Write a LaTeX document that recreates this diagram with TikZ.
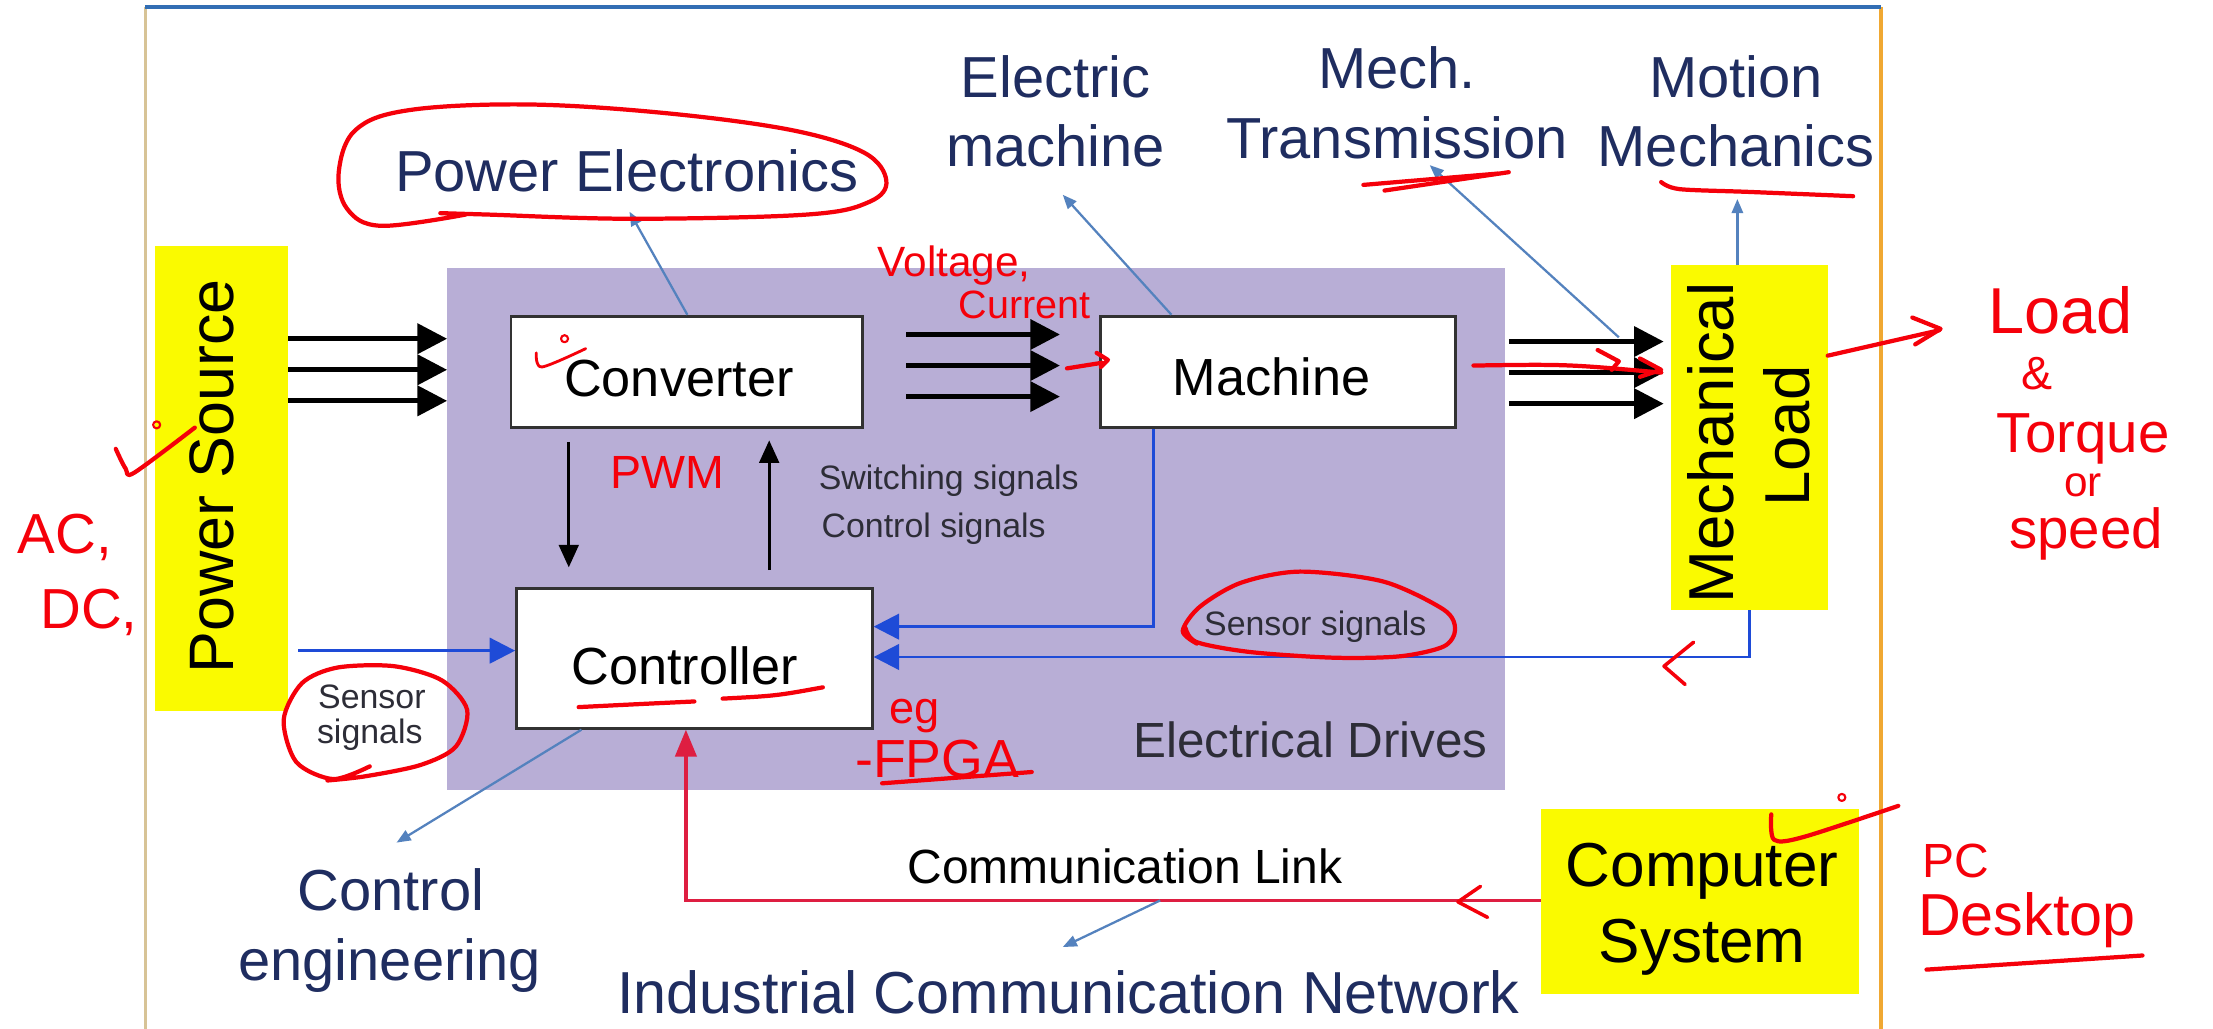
\documentclass[tikz,border=0pt]{standalone}
\usepackage{fontspec}
\setmainfont{Liberation Sans}
\usetikzlibrary{arrows.meta,calc}

\definecolor{drivefill}{RGB}{184,174,214}
\definecolor{srcyellow}{RGB}{250,250,0}
\definecolor{navy}{RGB}{31,45,96}
\definecolor{sensblue}{RGB}{30,75,215}
\definecolor{linkred}{RGB}{222,30,65}
\definecolor{steel}{RGB}{84,130,190}
\definecolor{ink}{RGB}{245,0,10}
\definecolor{framebl}{RGB}{50,110,180}
\definecolor{frameor}{RGB}{240,168,50}
\definecolor{frametan}{RGB}{215,195,150}
\definecolor{boxedge}{RGB}{50,50,50}
\definecolor{smalltxt}{RGB}{45,45,55}

\newcommand{\pxsize}[1]{\fontsize{#1pt}{#1pt}\selectfont}

\begin{document}
\begin{tikzpicture}[x=1pt,y=-1pt,
  block/.style={draw=boxedge, line width=2pt, fill=white, inner sep=0pt},
  yellowbox/.style={fill=srcyellow, inner sep=0pt},
  topic/.style={text=navy, font=\pxsize{41}, inner sep=0pt, anchor=base},
  blocktxt/.style={font=\pxsize{37}, inner sep=0pt, anchor=base},
  sigtxt/.style={text=smalltxt, font=\pxsize{24}, inner sep=0pt, anchor=base west},
  power/.style={line width=3.5pt, -{Triangle[length=21pt,width=21pt]}},
  ctlarrow/.style={line width=2pt, -{Triangle[length=16pt,width=14pt]}},
  sense/.style={draw=sensblue, line width=2pt, -{Triangle[length=18pt,width=18pt]}},
  commlink/.style={draw=linkred, line width=2.5pt, -{Triangle[length=19pt,width=15pt]}},
  pointer/.style={draw=steel, line width=1.6pt, -{Triangle[length=10pt,width=8pt]}},
  pen/.style={draw=ink, line width=3pt, line cap=round, line join=round},
  hand/.style={text=ink, inner sep=0pt},
]
\useasboundingbox (0,0) rectangle (1568,729);
\fill[white] (0,0) rectangle (1568,729);

% slide frame
\draw[frametan, line width=2pt] (103,5) -- (103,729);
\draw[frameor, line width=3pt] (1333,5) -- (1333,729);
\draw[framebl, line width=2.5pt] (103,5) -- (1333,5);

% drive area and outer blocks
\node[fill=drivefill, minimum width=749pt, minimum height=370pt, inner sep=0pt] (drives) at (691.5,375) {};
\node[yellowbox, minimum width=94pt, minimum height=330pt] (psrc) at (157,339) {};
\node[yellowbox, minimum width=111pt, minimum height=244pt] (mload) at (1239.5,310) {};
\node[yellowbox, minimum width=225pt, minimum height=131pt] (comp) at (1204.5,638.5) {};

% inner blocks
\node[block, minimum width=249pt, minimum height=79pt] (conv) at (486.5,263.5) {};
\node[block, minimum width=251pt, minimum height=79pt] (mach) at (905.5,263.5) {};
\node[block, minimum width=252pt, minimum height=99pt] (ctrl) at (492,466.5) {};

% block texts
\node[rotate=90, font=\pxsize{44.5}, inner sep=0pt] (psrctxt) at (150,337.5) {Power Source};
\node[rotate=90, font=\pxsize{45}, inner sep=0pt] (mloadtxt1) at (1212,314) {Mechanical};
\node[rotate=90, font=\pxsize{45}, inner sep=0pt] (mloadtxt2) at (1266,309) {Load};
\node[font=\pxsize{44}, inner sep=0pt, anchor=base] (comptxt1) at (1206,628) {Computer};
\node[font=\pxsize{44}, inner sep=0pt, anchor=base] (comptxt2) at (1206,682) {System};
\node[blocktxt] (convtxt) at (481,281) {Converter};
\node[blocktxt] (machtxt) at (901,280) {Machine};
\node[blocktxt] (ctrltxt) at (485,485) {Controller};

% discipline labels
\node[topic] (pe) at (444,136) {Power Electronics};
\node[topic] (em1) at (748,69) {Electric};
\node[topic] (em2) at (748,118) {machine};
\node[topic] (mt1) at (990,63) {Mech.};
\node[topic] (mt2) at (990,112) {Transmission};
\node[topic] (mm1) at (1230,69) {Motion};
\node[topic] (mm2) at (1230,118) {Mechanics};
\node[topic] (ce1) at (277,645) {Control};
\node[topic] (ce2) at (276,695) {engineering};
\node[topic, font=\pxsize{42}, anchor=base west] (icn) at (437,718) {Industrial Communication Network};

% signal labels
\node[sigtxt] (sw) at (580,347) {Switching signals};
\node[sigtxt] (cs) at (582,380.5) {Control signals};
\node[sigtxt] (ssr) at (853,450) {Sensor signals};
\node[sigtxt, anchor=base] (ssl1) at (263.5,502) {Sensor};
\node[sigtxt, anchor=base] (ssl2) at (262,527) {signals};
\node[text=smalltxt, font=\pxsize{35}, inner sep=0pt, anchor=base west] (edr) at (803,537) {Electrical Drives};
\node[font=\pxsize{34}, inner sep=0pt, anchor=base] (cl) at (797,626) {Communication Link};

% power flow
\foreach \a/\b in {99/135, 77/113, 55/91}
  \draw[power] ([yshift=\a pt]psrc.east) -- ([yshift=\b pt]drives.west);
\foreach \a in {26.5, 4.5, -17.5}
  \draw[power, shorten <=30pt, shorten >=28pt] ([yshift=\a pt]conv.east) -- ([yshift=\a pt]mach.west);
\foreach \a/\b in {21.5/68, -0.5/46, -22.5/24}
  \draw[power, shorten <=37pt, shorten >=5pt] ([yshift=\a pt]mach.east) -- ([yshift=\b pt]mload.west);

% converter <-> controller
\draw[ctlarrow, shorten <=9pt, shorten >=14pt] ([xshift=-83.5pt]conv.south) -- ([xshift=-89pt]ctrl.north);
\draw[ctlarrow, shorten <=12pt, shorten >=8pt] ([xshift=53pt]ctrl.north) -- ([xshift=58.5pt]conv.south);

% sensor feedback
\draw[sense] ([xshift=-88.5pt]mach.south) |- ([yshift=22.5pt]ctrl.east);
\draw[sense] (mload.south) |- ([yshift=1pt]ctrl.east);
\draw[sense, shorten <=7pt] ([yshift=-122pt]psrc.east) -- ([yshift=5.5pt]ctrl.west);

% communication link
\draw[commlink] ([yshift=0.5pt]comp.west) -| ([xshift=-6pt]ctrl.south);

% pointers to the disciplines
\coordinate (peTip) at (446,150);
\coordinate (emTip) at (753,138);
\coordinate (mtFoot) at (1147,239);
\coordinate (mtTip) at (1013,117);
\coordinate (mmTip) at (1231,141);
\coordinate (ceTip) at (281,597);
\coordinate (icFoot) at (822,638);
\coordinate (icTip) at (753,671);
\draw[pointer] ([xshift=0.5pt]conv.north) -- (peTip);
\draw[pointer] ([xshift=-75.5pt]mach.north) -- (emTip);
\draw[pointer] (mtFoot) -- (mtTip);
\draw[pointer] ([xshift=-8.5pt]mload.north) -- (mmTip);
\draw[pointer] ([xshift=-80pt]ctrl.south) -- (ceTip);
\draw[pointer] (icFoot) -- (icTip);

% ---- red pen notes ----
\draw[pen] plot[smooth, tension=0.6] coordinates {(330,152) (270,160) (246,148) (240,122) (252,92) (290,78) (373,74) (470,80) (560,92) (612,108) (628,128) (616,143) (572,152) (448,155) (345,152) (312,151)};
\draw[pen, line width=2pt] plot[smooth] coordinates {(380,250) (384,260) (415,247)};
\draw[pen, line width=1.5pt] (400,240) circle (2.5);

\node[hand, font=\pxsize{30}] (volt) at (676,188) {Voltage,};
\node[hand, font=\pxsize{28}] (curr) at (726,216) {Current};
\draw[pen] (756,261) -- (781,257);
\draw[pen] (777,250) -- (785,255) -- (780,260);

\node[hand, font=\pxsize{33}] (pwm) at (473,335) {PWM};
\draw[pen] (410,501) .. controls (450,499) .. (492,497);
\draw[pen] (512,495) .. controls (550,493) .. (583,487);
\node[hand, font=\pxsize{32}] (eg) at (648,507) {eg};
\node[hand, font=\pxsize{38}] (fpga) at (664,538) {-FPGA};
\draw[pen] (625,555) -- (731,547);

\draw[pen] plot[smooth] coordinates {(262,543) (236,552) (210,540) (201,510) (214,484) (239,473) (279,472) (313,482) (331,503) (323,529) (298,542) (259,550) (232,553)};
\draw[pen] plot[smooth] coordinates {(848,456) (838,447) (850,430) (879,413) (921,405) (980,412) (1023,432) (1031,446) (1023,458) (992,465) (945,466) (886,462) (848,455) (840,445)};
\draw[pen, line width=2.5pt] (1200,455) -- (1179,472) -- (1194,485);

\draw[pen] (966,131) -- (1061,123);
\draw[pen] (981,135) -- (1069,122);
\draw[pen] plot[smooth] coordinates {(1177,129) (1190,134) (1240,136) (1313,139)};

\draw[pen] (1044,259) .. controls (1110,258) .. (1177,264);
\draw[pen] (1132,248) -- (1147,256) -- (1142,262);
\draw[pen] (1162,254) -- (1177,262) -- (1162,267);

\draw[pen] (1295,252) -- (1374,234);
\draw[pen] (1355,225) -- (1375,233) -- (1357,244);
\node[hand, font=\pxsize{46}] (nload) at (1460,220) {Load};
\node[hand, font=\pxsize{33}] (namp) at (1443,265) {\&};
\node[hand, font=\pxsize{40}] (ntorque) at (1476,311) {Torque};
\node[hand, font=\pxsize{30}] (nor) at (1476,344) {or};
\node[hand, font=\pxsize{40}] (nspeed) at (1478,378) {speed};

\draw[pen] plot[smooth] coordinates {(82,318) (89,332) (95,335) (138,303)};
\draw[pen, line width=1.5pt] (111,301) circle (2.5);
\node[hand, font=\pxsize{40}] (nac) at (46,381) {AC,};
\node[hand, font=\pxsize{40}] (ndc) at (63,434) {DC,};

\draw[pen, line width=2.5pt] (1049,628) -- (1033,639) -- (1054,650);
\draw[pen] plot[smooth] coordinates {(1255,577) (1257,595) (1278,593) (1345,571)};
\draw[pen, line width=1.5pt] (1305,565) circle (2.5);
\node[hand, font=\pxsize{34}] (npc) at (1386,610) {PC};
\node[hand, font=\pxsize{42}] (ndesk) at (1436,652) {Desktop};
\draw[pen] (1365,687) -- (1518,677);
\end{tikzpicture}
\end{document}
